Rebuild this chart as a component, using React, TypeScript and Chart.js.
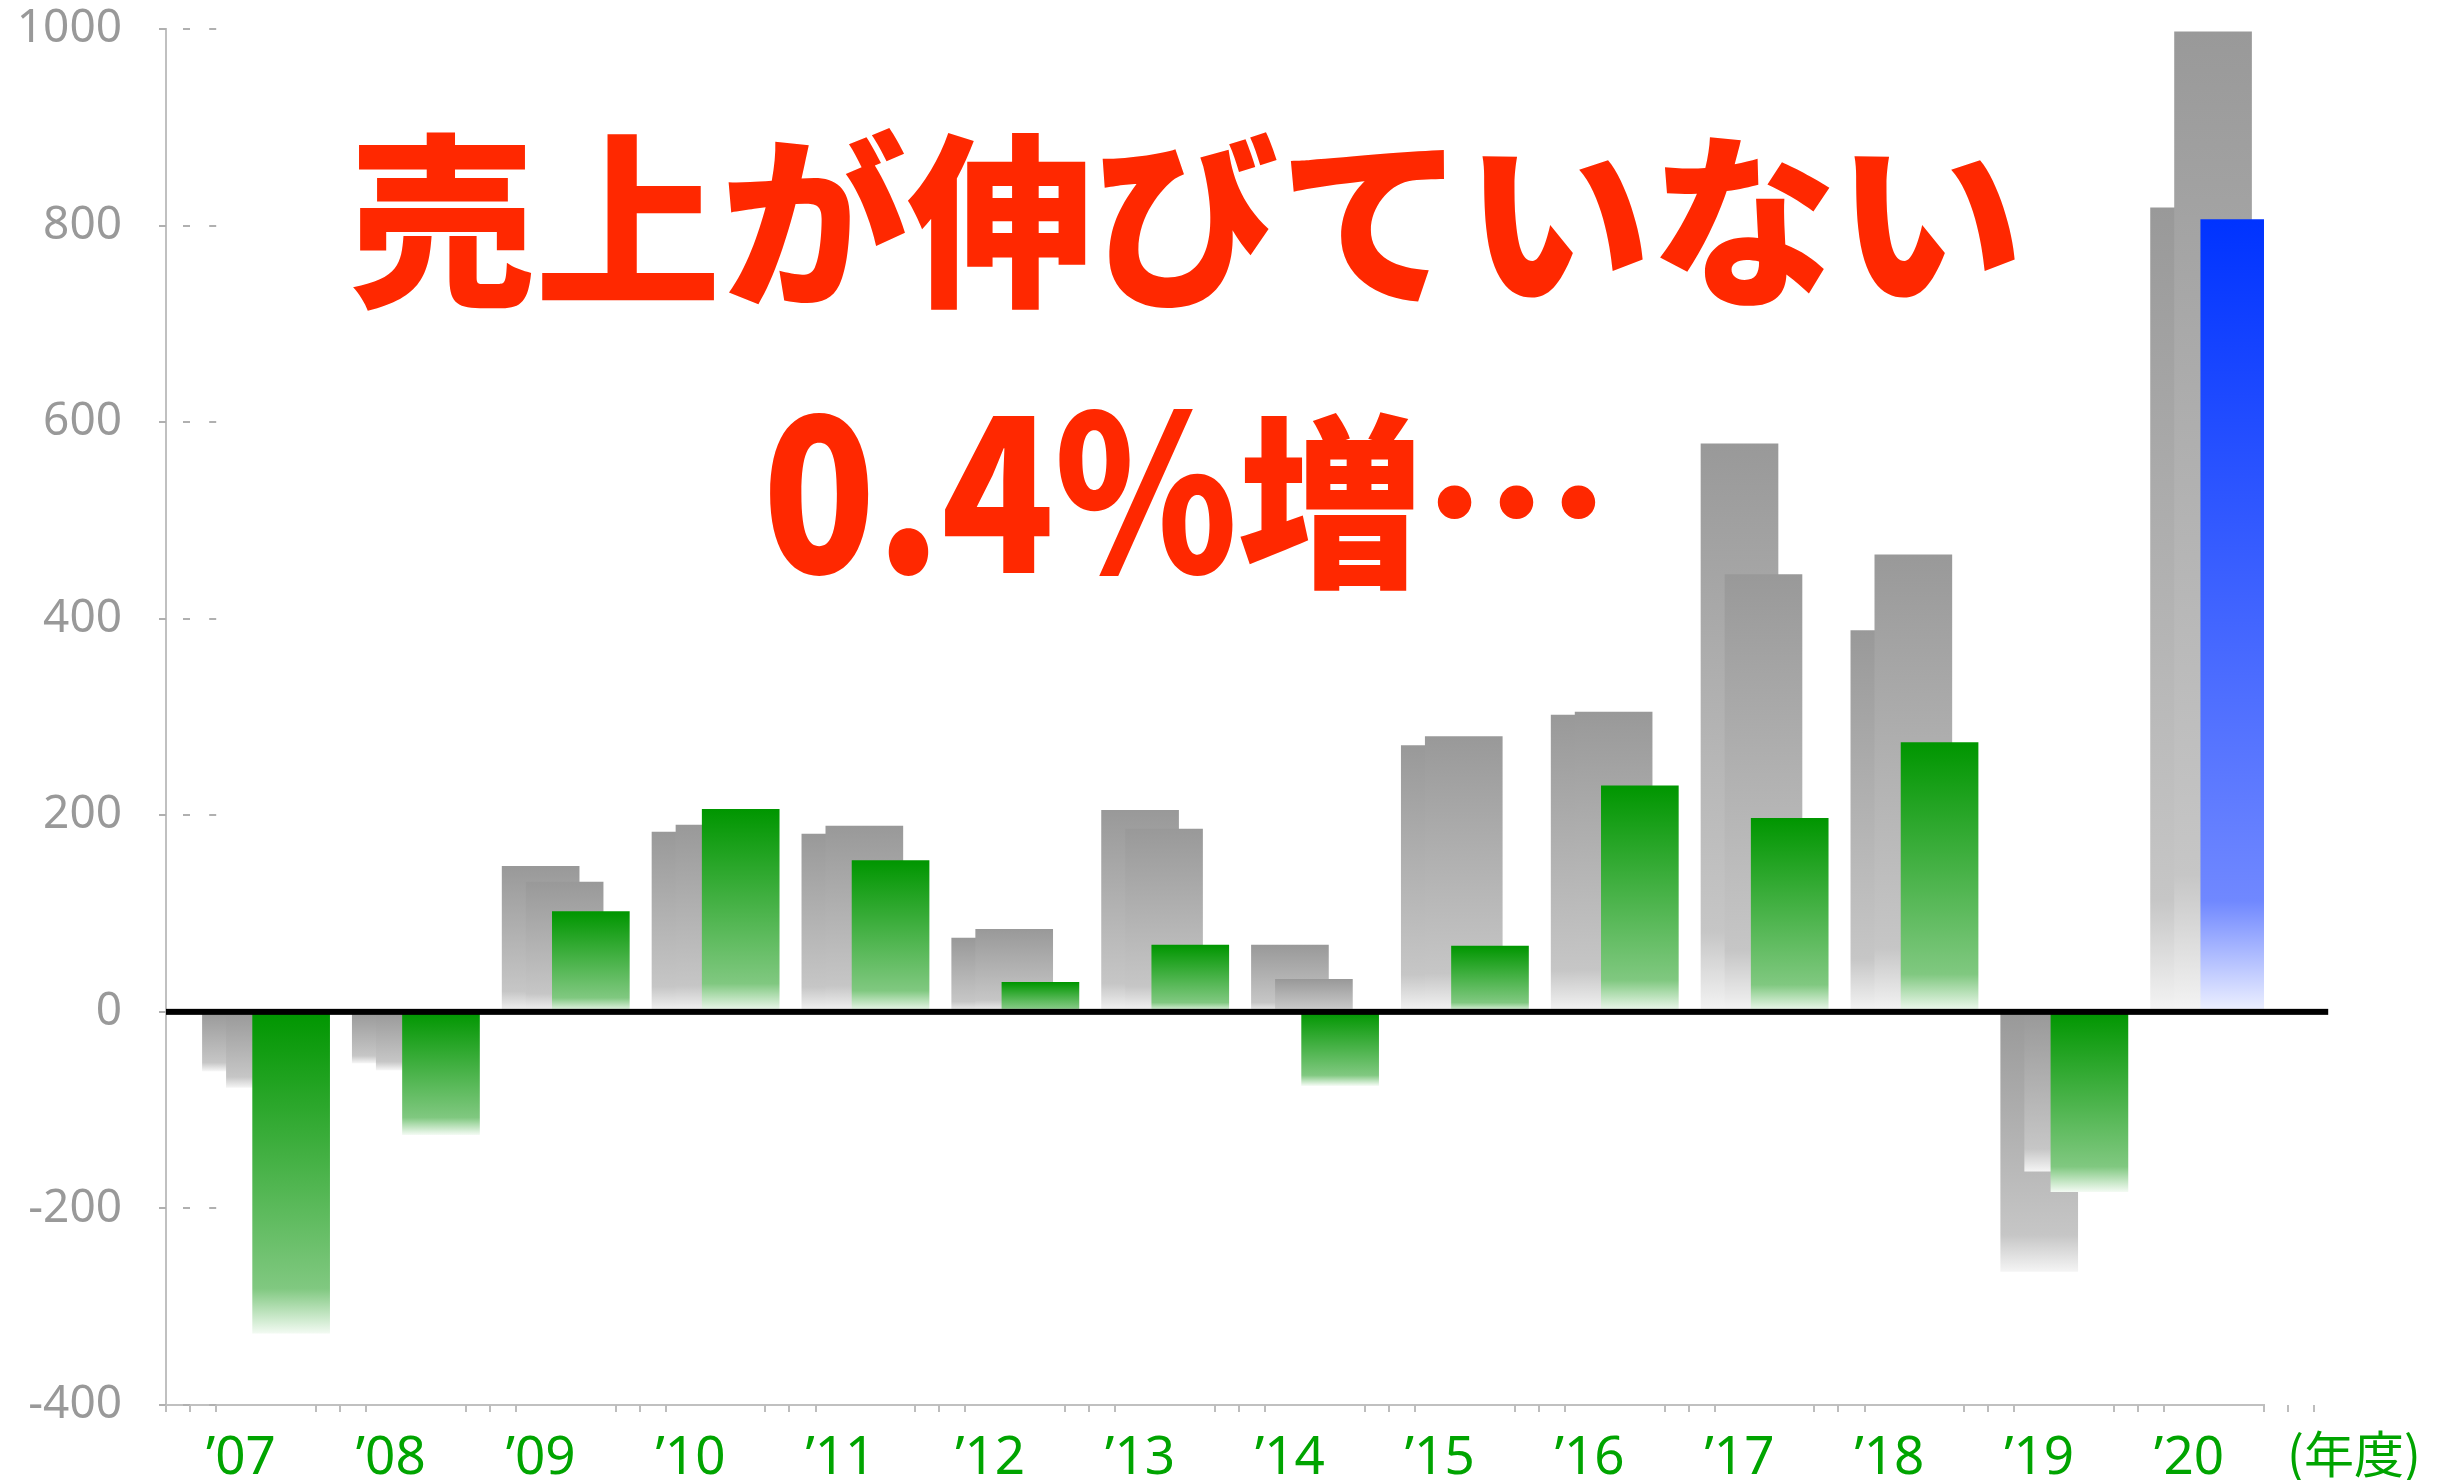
import { useEffect, useRef } from "react";
import { Chart, registerables } from "chart.js";

Chart.register(...registerables);

// ---- data ----
const years = ["’07", "’08", "’09", "’10", "’11", "’12", "’13", "’14", "’15", "’16", "’17", "’18", "’19", "’20"];
const twoYearsAgo = [-60, -52, 148, 183, 181, 75, 205, 68, 271, 302, 578, 388, -264, 818];
const lastYear = [-77, -59, 132, 190, 189, 84, 186, 33, 280, 305, 445, 465, -162, 997];
const thisYear = [-327, -125, 102, 206, 154, 30, 68, -75, 67, 230, 197, 274, -183, 806];
const highlightYear = "’20";
const yTicks = [-400, -200, 0, 200, 400, 600, 800, 1000];
const headline = "売上が伸びていない";
const sublineFigure = "0.4%";
const sublineWord = "増…";
const unitLabel = "(年度)";

// ---- style ----
const SHIFT_B = 0.16; // in category units
const SHIFT_C = 0.335;
const GRAY = ["#999999", "#c6c6c6", "#f4f4f4"];
const GREEN = ["#009600", "#80c880", "#f2faf2"];
const BLUE = ["#0033ff", "#7088ff", "#eef1ff"];
const LABEL_GREEN = "#00a400";
const TITLE_RED = "#ff2800";

function makeFill(stops: string[]) {
  return (ctx: any) => {
    const chart = ctx.chart;
    const raw = ctx.raw;
    const ys = chart.scales && chart.scales.y;
    if (!chart.chartArea || !ys || !raw) return stops[0];
    const p0 = ys.getPixelForValue(0);
    const p1 = ys.getPixelForValue(raw.y);
    const top = Math.min(p0, p1);
    const bottom = Math.max(p0, p1);
    if (bottom - top < 1) return stops[0];
    const g = chart.ctx.createLinearGradient(0, top, 0, bottom);
    g.addColorStop(0, stops[0]);
    g.addColorStop(0.86, stops[1]);
    g.addColorStop(1, stops[2]);
    return g;
  };
}

const grayFill = makeFill(GRAY);
const greenFill = makeFill(GREEN);
const blueFill = makeFill(BLUE);

const overlayPlugin = {
  id: "overlay",
  afterDatasetsDraw(chart: any) {
    const { ctx, chartArea, scales } = chart;
    const y = scales.y;
    const xs = [scales.x, scales.xB, scales.xC];
    ctx.save();
    // y tick marks on the three stacked axes
    ctx.strokeStyle = "#b0b0b0";
    ctx.lineWidth = 2;
    for (const v of yTicks) {
      const py = Math.round(y.getPixelForValue(v));
      for (const s of xs) {
        const px = s.getPixelForValue(-0.5);
        ctx.beginPath();
        ctx.moveTo(px - 7, py);
        ctx.lineTo(px, py);
        ctx.stroke();
      }
    }
    // x tick marks
    ctx.strokeStyle = "#bdbdbd";
    ctx.lineWidth = 2;
    for (const s of xs) {
      for (let k = 0; k <= years.length; k++) {
        const px = Math.round(s.getPixelForValue(k - 0.5));
        ctx.beginPath();
        ctx.moveTo(px, chartArea.bottom);
        ctx.lineTo(px, chartArea.bottom + 7);
        ctx.stroke();
      }
    }
    // zero line
    const y0 = y.getPixelForValue(0);
    const xEnd = scales.xC.getPixelForValue(years.length - 0.5) + 14;
    ctx.fillStyle = "#000000";
    ctx.fillRect(chartArea.left, y0 - 3, xEnd - chartArea.left, 6);
    ctx.restore();
  },
  afterDraw(chart: any) {
    const { ctx } = chart;
    ctx.save();
    ctx.fillStyle = TITLE_RED;
    ctx.textBaseline = "alphabetic";
    ctx.font = '900 186px "Noto Sans CJK JP", sans-serif';
    ctx.textAlign = "center";
    ctx.fillText(headline, 1186, 292);
    // second line: figure (slightly taller digits) + word
    const wFig = ctx.measureText(sublineFigure).width;
    const wWord = ctx.measureText(sublineWord).width;
    const start = 1186 - (wFig + wWord) / 2;
    ctx.textAlign = "left";
    ctx.save();
    ctx.translate(start, 573);
    ctx.scale(1, 1.16);
    ctx.fillText(sublineFigure, 0, 0);
    ctx.restore();
    ctx.fillText(sublineWord, start + wFig, 573);
    ctx.fillStyle = LABEL_GREEN;
    ctx.font = '400 50px "Noto Sans CJK JP", sans-serif';
    ctx.textAlign = "center";
    ctx.textBaseline = "middle";
    ctx.fillText(unitLabel, 2354, 1454);
    ctx.restore();
  },
};

export default function App() {
  const canvasRef = useRef<HTMLCanvasElement | null>(null);

  useEffect(() => {
    document.body.style.margin = "0";
    const canvas = canvasRef.current;
    if (!canvas) return;
    const hi = years.indexOf(highlightYear);
    const common = {
      barThickness: 77,
      grouped: false,
      borderWidth: 0,
    };
    const chart = new Chart(canvas, {
      type: "bar",
      data: {
        datasets: [
          {
            ...common,
            label: "今期",
            data: thisYear.map((v, i) => ({ x: i, y: v })),
            xAxisID: "xC",
            yAxisID: "y",
            order: 1,
            backgroundColor: (c: any) => (c.dataIndex === hi ? blueFill(c) : greenFill(c)),
          },
          {
            ...common,
            label: "前期",
            data: lastYear.map((v, i) => ({ x: i, y: v })),
            xAxisID: "xB",
            yAxisID: "y",
            order: 2,
            backgroundColor: grayFill,
          },
          {
            ...common,
            label: "前々期",
            data: twoYearsAgo.map((v, i) => ({ x: i, y: v })),
            xAxisID: "x",
            yAxisID: "y",
            order: 3,
            backgroundColor: grayFill,
          },
        ] as any,
      },
      options: {
        responsive: false,
        animation: false,
        layout: { padding: { top: 29, right: 182, left: 0, bottom: 0 } },
        plugins: {
          legend: { display: false },
          tooltip: { enabled: false },
          title: { display: false },
        },
        scales: {
          x: {
            type: "linear",
            position: "bottom",
            offset: false,
            min: -0.5,
            max: years.length - 0.5,
            afterBuildTicks: (s: any) => {
              s.ticks = years.map((_, i) => ({ value: i }));
            },
            ticks: {
              autoSkip: false,
              maxRotation: 0,
              padding: 22,
              color: LABEL_GREEN,
              font: { family: '"Noto Sans", sans-serif', size: 53 },
              callback: (v: any) => years[v] ?? "",
            },
            grid: { display: false, drawTicks: false, offset: false },
            border: { display: true, color: "#c0c0c0", width: 2 },
            afterFit: (s: any) => {
              s.height = 75;
              s.paddingLeft = 0;
              s.paddingRight = 0;
            },
          },
          xB: {
            type: "linear",
            display: false,
            offset: false,
            grid: { offset: false },
            min: -0.5 - SHIFT_B,
            max: years.length - 0.5 - SHIFT_B,
          },
          xC: {
            type: "linear",
            display: false,
            offset: false,
            grid: { offset: false },
            min: -0.5 - SHIFT_C,
            max: years.length - 0.5 - SHIFT_C,
          },
          y: {
            type: "linear",
            position: "left",
            min: -400,
            max: 1000,
            afterBuildTicks: (s: any) => {
              s.ticks = yTicks.map((v) => ({ value: v }));
            },
            ticks: {
              padding: 44,
              color: "#999999",
              font: { family: '"Noto Sans", sans-serif', size: 46 },
              callback: (v: any) => String(v),
            },
            grid: { display: false, drawTicks: false },
            border: { display: true, color: "#c0c0c0", width: 2 },
            afterFit: (s: any) => {
              s.width = 166;
              s.paddingTop = 0;
              s.paddingBottom = 0;
            },
          },
        },
      } as any,
      plugins: [overlayPlugin],
    });
    return () => {
      chart.destroy();
    };
  }, []);

  return (
    <canvas
      ref={canvasRef}
      width={2446}
      height={1480}
      style={{ display: "block", width: "2446px", height: "1480px" }}
    />
  );
}
